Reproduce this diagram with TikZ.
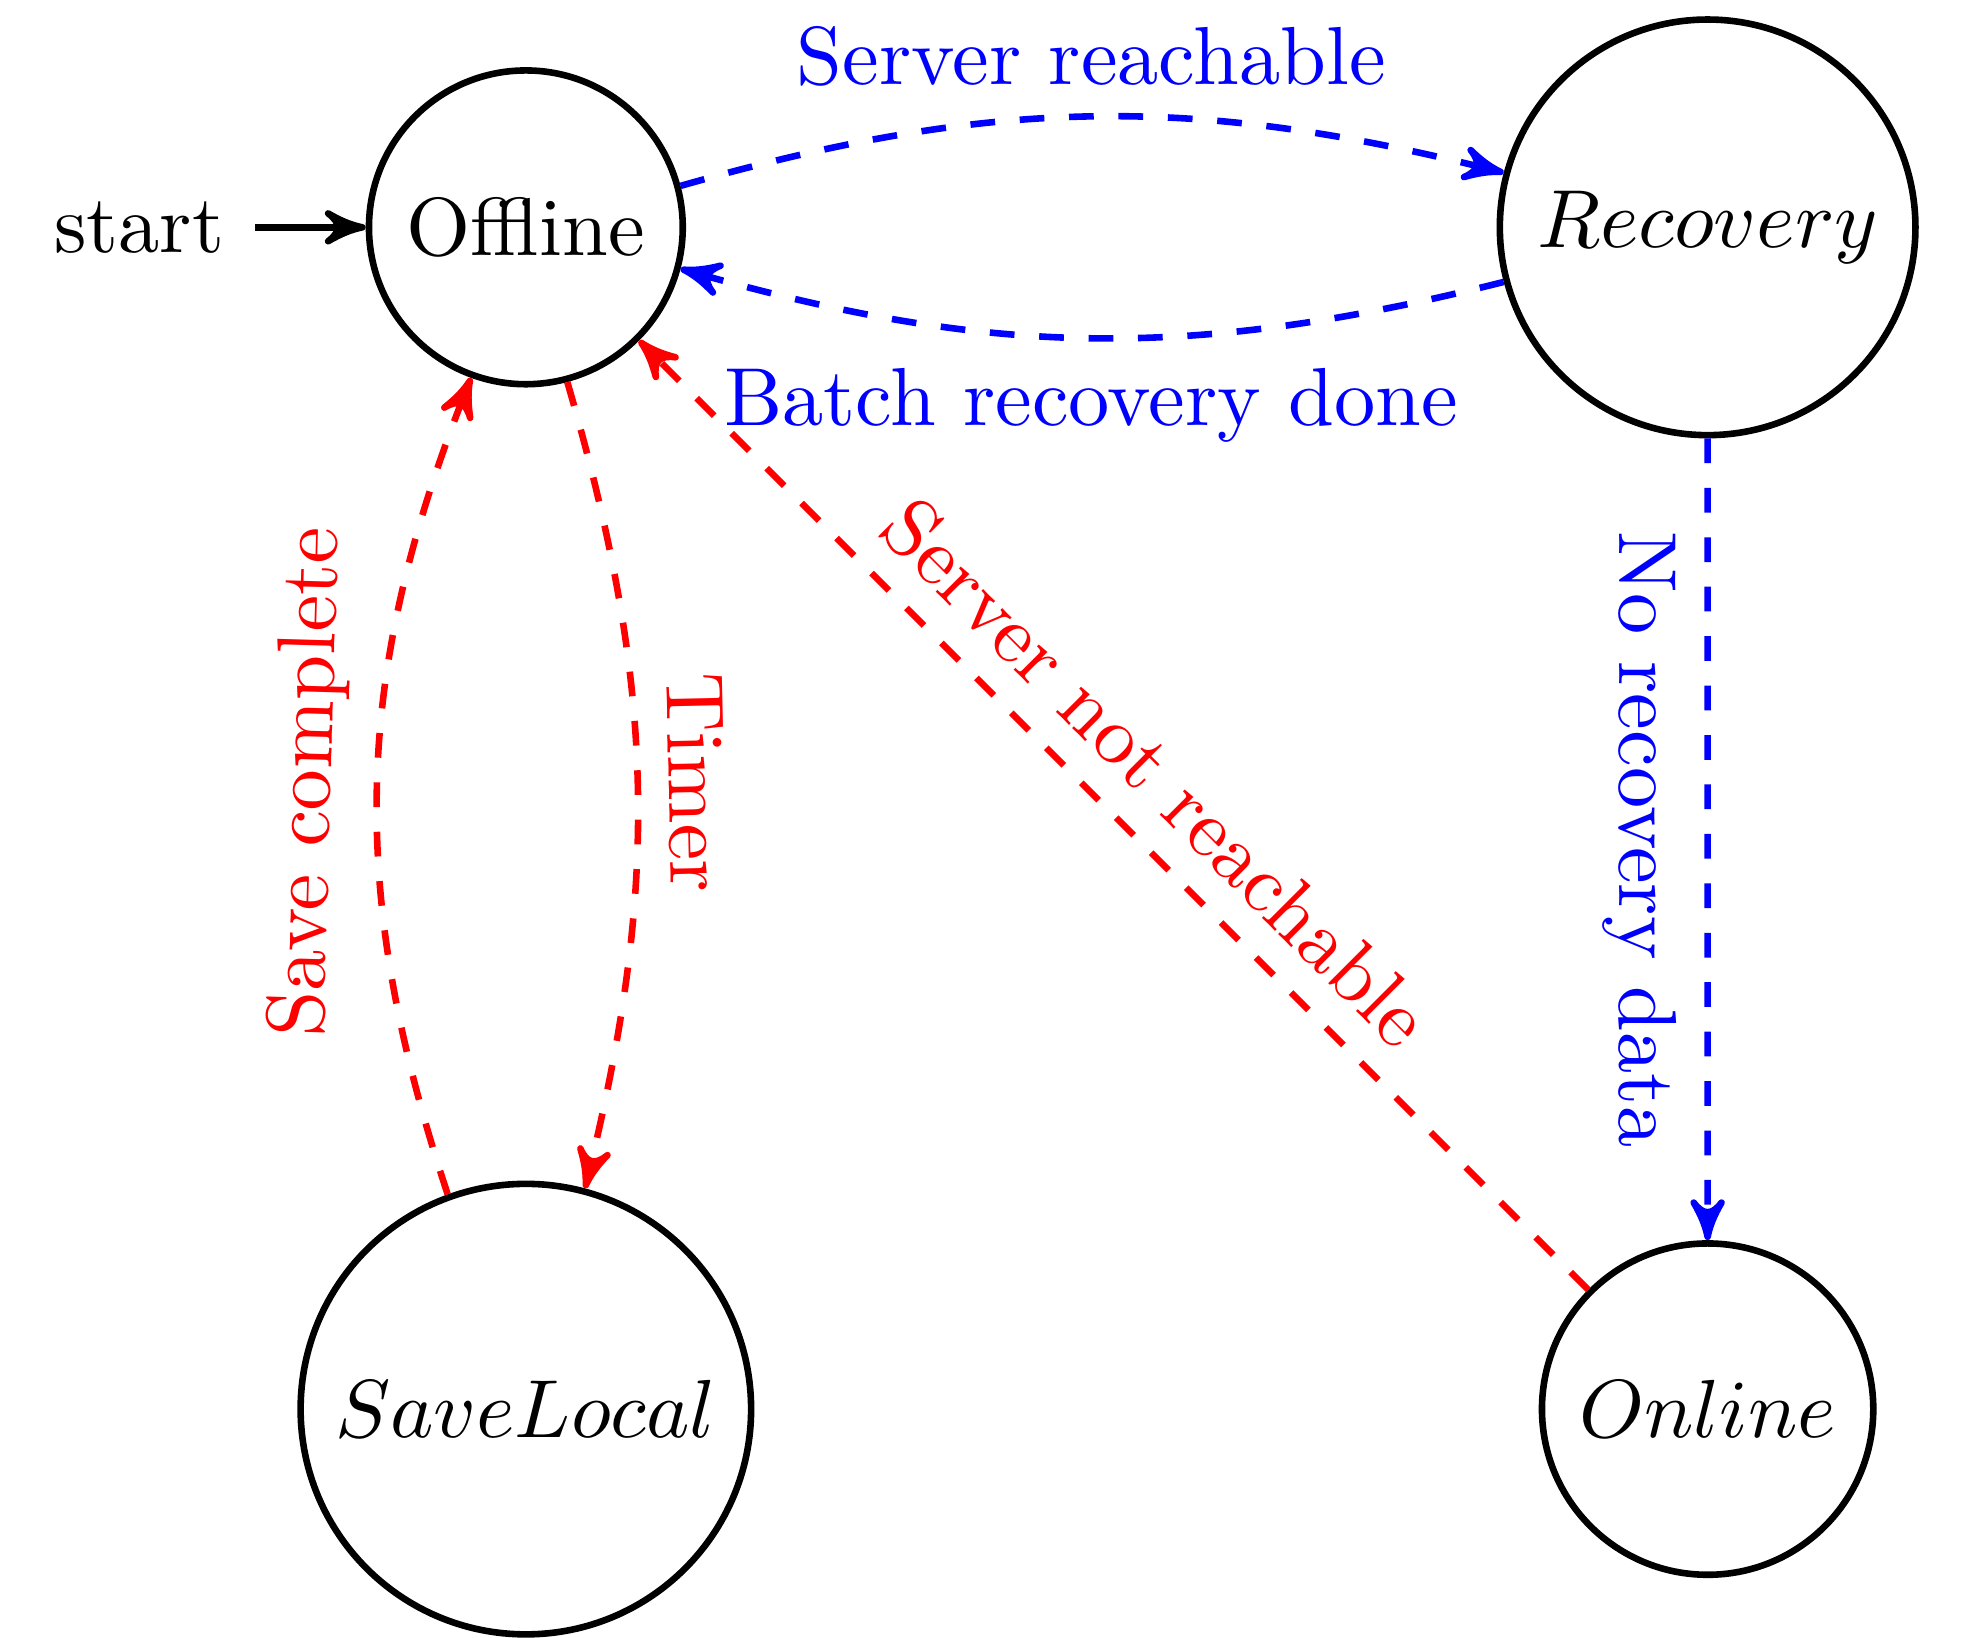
\documentclass[tikz,border=0pt]{standalone}
\usepackage{tikz}
\usetikzlibrary{arrows}

\begin{document}
\begin{tikzpicture}[scale=0.937, thick, >=stealth', mode/.style={draw,circle,minimum size=2.5em}, blu/.style={->,blue,dashed}, rd/.style={->,red,dashed}]
      \useasboundingbox (-2.394,-6.419) rectangle (6.597,1.035);
      \node[mode] (off) at (0,0) {Offline};
      \node[mode] (rec) at (5.38,0) {$Recovery$};
      \node[mode] (sav) at (0,-5.38) {$SaveLocal$};
      \node[mode] (onl) at (5.38,-5.38) {$Online$};
      \node (start) at (-1.76,0) {start};

      \draw[->] (start) -- (off);
      \draw[blu] (off) to[bend left=15] node[above] {Server reachable} (rec);
      \draw[blu] (rec) to[bend left=15] node[below] {Batch recovery done} (off);
      \draw[blu] (rec) -- node[below,sloped] {No recovery data} (onl);
      \draw[rd] (off) to[bend left=15] node[above,sloped] {Timer} (sav);
      \draw[rd] (sav) to[bend left=20] node[above,sloped] {Save complete} (off);
      \draw[rd] (onl) -- node[above,sloped] {Server not reachable} (off);
    \end{tikzpicture}
\end{document}
